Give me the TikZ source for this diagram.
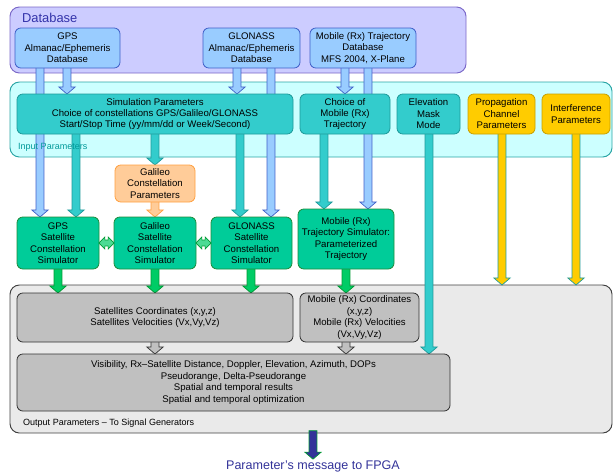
\documentclass[tikz,border=0pt]{standalone}
\usepackage{fontspec}
\setmainfont{Liberation Sans}
\usetikzlibrary{calc}
\usepackage{xcolor}

\definecolor{dbfill}{HTML}{CCCCFF}
\definecolor{dbline}{HTML}{7B68C8}
\definecolor{almfill}{HTML}{99CCFF}
\definecolor{almline}{HTML}{4060C8}
\definecolor{infill}{HTML}{CCFFFF}
\definecolor{inline}{HTML}{2AA5A5}
\definecolor{tealfill}{HTML}{33CCCC}
\definecolor{tealline}{HTML}{1E9A9A}
\definecolor{goldfill}{HTML}{FFCC00}
\definecolor{goldline}{HTML}{C8A000}
\definecolor{galfill}{HTML}{FFCC99}
\definecolor{galline}{HTML}{FFA040}
\definecolor{simfill}{HTML}{00CC99}
\definecolor{simline}{HTML}{1E8C3C}
\definecolor{outfill}{HTML}{EAEAEA}
\definecolor{outframeline}{HTML}{404040}
\definecolor{resfill}{HTML}{C0C0C0}
\definecolor{arrgreen}{HTML}{00CC66}
\definecolor{arrgreenline}{HTML}{009933}
\definecolor{msgblue}{HTML}{333399}
\definecolor{labelblue}{HTML}{3333AA}
\definecolor{labelteal}{HTML}{009999}

\newlength\pxu
\setlength\pxu{0.03cm}

\pgfdeclarelayer{back}
\pgfdeclarelayer{links}
\pgfsetlayers{back,links,main}

\newcommand{\paramBox}[7]{%
  \node[#2, anchor=north west, minimum width=#5\pxu, minimum height=#6\pxu]
    (#1) at (#3, #4) {#7};%
}

% downward block arrow at x = #2, from #3 to #4
\newcommand{\blockArrow}[4]{%
  \draw[#1] let \p1=(#2, 0), \p2=(#3), \p3=(#4) in
    (\x1-3.4pt, \y2+2pt) -- (\x1-3.4pt, \y3+6pt) -- (\x1-7pt, \y3+6pt) -- (\x1, \y3)
    -- (\x1+7pt, \y3+6pt) -- (\x1+3.4pt, \y3+6pt) -- (\x1+3.4pt, \y2+2pt) -- cycle;%
}

% two-headed block arrow between two simulators
\newcommand{\linkArrow}[3]{%
  \draw[#1] let \p1=(#2), \p2=(#3) in
    (\x1, \y1) -- (\x1+5pt, \y1+5.2pt) -- (\x1+5pt, \y1+2.5pt) -- (\x2-5pt, \y1+2.5pt)
    -- (\x2-5pt, \y1+5.2pt) -- (\x2, \y1) -- (\x2-5pt, \y1-5.2pt) -- (\x2-5pt, \y1-2.5pt)
    -- (\x1+5pt, \y1-2.5pt) -- (\x1+5pt, \y1-5.2pt) -- cycle;%
}

\tikzset{
  every node/.style={font=\fontsize{8.2}{9.8}\selectfont, align=center, inner sep=1pt, outer sep=0pt},
  frame/.style={line width=0.8pt, rounded corners=8pt},
  dbframe/.style={frame, draw=dbline, fill=dbfill},
  inframe/.style={frame, draw=inline, fill=infill},
  outframe/.style={frame, draw=outframeline, fill=outfill},
  pbox/.style={line width=0.7pt, rounded corners=5pt},
  almbox/.style={pbox, draw=almline, fill=almfill},
  tealbox/.style={pbox, draw=tealline, fill=tealfill},
  goldbox/.style={pbox, draw=goldline, fill=goldfill},
  galbox/.style={pbox, draw=galline, fill=galfill},
  simbox/.style={pbox, draw=simline, fill=simfill},
  resbox/.style={pbox, draw=black!80, fill=resfill},
  almarrow/.style={line width=0.6pt, draw=almline, fill=almfill},
  tealarrow/.style={line width=0.6pt, draw=tealline, fill=tealfill},
  goldarrow/.style={line width=0.6pt, draw=tealline, fill=goldfill},
  galarrow/.style={line width=0.6pt, draw=galline, fill=galfill},
  greenarrow/.style={line width=0.6pt, draw=arrgreenline, fill=arrgreen},
  grayarrow/.style={line width=0.6pt, draw=black!80, fill=resfill},
  msgarrow/.style={line width=0.6pt, draw=arrgreenline, fill=msgblue}
}

\begin{document}
\begin{tikzpicture}[x=0.03cm, y=-0.03cm]
  \useasboundingbox (0, 0) rectangle (613, 473);

  % Group frames
  \begin{pgfonlayer}{back}
    \paramBox{dbbox}{dbframe}{10}{7}{456}{66}{}
    \paramBox{inbox}{inframe}{10}{82}{602}{75}{}
    \paramBox{outbox}{outframe}{10}{285}{602}{148}{}
  \end{pgfonlayer}
  \node[anchor=west, font=\fontsize{11}{13}\selectfont, text=labelblue] (dblabel) at (21, 18) {Database};
  \node[anchor=west, font=\fontsize{7.7}{9}\selectfont, text=labelteal] (inlabel) at (17, 147) {Input Parameters};
  \node[anchor=west, font=\fontsize{7.7}{9}\selectfont] (outlabel) at (22, 423) {Output Parameters -- To Signal Generators};

  % Database
  \paramBox{gpsalm}{almbox}{15}{28}{105}{40}{GPS\\Almanac/Ephemeris\\Database}
  \paramBox{glnalm}{almbox}{203}{28}{97}{40}{GLONASS\\Almanac/Ephemeris\\Database}
  \paramBox{mobdb}{almbox}{310}{28}{106}{40}{Mobile (Rx) Trajectory\\Database\\MFS 2004, X-Plane}

  % Input parameters
  \paramBox{simpar}{tealbox}{17}{94}{276}{40}{Simulation Parameters\\Choice of constellations  GPS/Galileo/GLONASS\\Start/Stop Time (yy/mm/dd or Week/Second)}
  \paramBox{mobchoice}{tealbox}{300}{94}{90}{40}{Choice of\\Mobile (Rx)\\Trajectory}
  \paramBox{elev}{tealbox}{397}{94}{63}{40}{Elevation\\Mask\\Mode}
  \paramBox{prop}{goldbox}{468}{94}{67}{40}{Propagation\\Channel\\Parameters}
  \paramBox{interf}{goldbox}{542}{94}{68}{40}{Interference\\Parameters}

  % Simulators
  \paramBox{galpar}{galbox}{115}{165}{80}{37}{Galileo\\Constellation\\Parameters}
  \paramBox{gpssim}{simbox}{17}{217}{82}{52}{GPS\\Satellite\\Constellation\\Simulator}
  \paramBox{galsim}{simbox}{114}{217}{82}{52}{Galileo\\Satellite\\Constellation\\Simulator}
  \paramBox{glnsim}{simbox}{211}{217}{81}{52}{GLONASS\\Satellite\\Constellation\\Simulator}
  \paramBox{mobsim}{simbox}{298}{209}{96}{60}{Mobile (Rx)\\Trajectory Simulator:\\Parameterized\\Trajectory}

  % Output parameters
  \paramBox{satres}{resbox}{17}{293}{276}{49}{Satellites Coordinates (x,y,z)\\Satellites Velocities (Vx,Vy,Vz)}
  \paramBox{mobres}{resbox}{300}{293}{119}{49}{Mobile (Rx) Coordinates\\(x,y,z)\\Mobile (Rx) Velocities\\(Vx,Vy,Vz)}
  \paramBox{vis}{resbox}{17}{354}{433}{57}{Visibility, Rx--Satellite Distance, Doppler, Elevation, Azimuth, DOPs\\Pseudorange, Delta-Pseudorange\\Spatial and temporal results\\Spatial and temporal optimization}

  \node[font=\fontsize{10.7}{12}\selectfont, text=msgblue] (msg) at (313, 466) {Parameter's message to FPGA};

  % Connect the boxes
  \begin{pgfonlayer}{links}
    \blockArrow{almarrow}{40}{gpsalm.south}{gpssim.north}
    \blockArrow{almarrow}{67}{gpsalm.south}{simpar.north}
    \blockArrow{almarrow}{237}{glnalm.south}{simpar.north}
    \blockArrow{almarrow}{271}{glnalm.south}{glnsim.north}
    \blockArrow{almarrow}{345}{mobdb.south}{mobchoice.north}
    \blockArrow{almarrow}{368}{mobdb.south}{mobsim.north}

    \blockArrow{tealarrow}{76}{simpar.south}{gpssim.north}
    \blockArrow{tealarrow}{155}{simpar.south}{galpar.north}
    \blockArrow{tealarrow}{240}{simpar.south}{glnsim.north}
    \blockArrow{tealarrow}{324}{mobchoice.south}{mobsim.north}
    \blockArrow{tealarrow}{429}{elev.south}{vis.north}

    \blockArrow{goldarrow}{502}{prop.south}{outbox.north}
    \blockArrow{goldarrow}{576}{interf.south}{outbox.north}
    \blockArrow{galarrow}{155}{galpar.south}{galsim.north}

    \blockArrow{greenarrow}{58}{gpssim.south}{satres.north}
    \blockArrow{greenarrow}{155}{galsim.south}{satres.north}
    \blockArrow{greenarrow}{251}{glnsim.south}{satres.north}
    \blockArrow{greenarrow}{346}{mobsim.south}{mobres.north}

    \blockArrow{grayarrow}{155}{satres.south}{vis.north}
    \blockArrow{grayarrow}{346}{mobres.south}{vis.north}
    \blockArrow{msgarrow}{313}{outbox.south}{msg.north}
  \end{pgfonlayer}
  \linkArrow{greenarrow, fill=arrgreen!70}{gpssim.east}{galsim.west}
  \linkArrow{greenarrow, fill=arrgreen!70}{galsim.east}{glnsim.west}
\end{tikzpicture}
\end{document}
